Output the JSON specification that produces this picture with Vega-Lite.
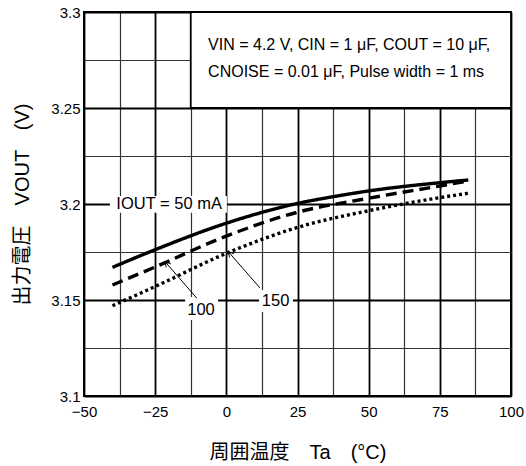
{
  "$schema": "https://vega.github.io/schema/vega-lite/v6.json",
  "width": 427,
  "height": 384,
  "autosize": {"type": "none"},
  "padding": {"left": 84, "top": 12, "right": 15, "bottom": 70},
  "config": {"view": {"stroke": "black", "strokeWidth": 2}, "font": "Liberation Sans"},
  "datasets": {
    "curves": [
      {"Ta": -40, "Vout": 3.167, "IOUT": "50"},
      {"Ta": -25, "Vout": 3.1762, "IOUT": "50"},
      {"Ta": 0, "Vout": 3.19, "IOUT": "50"},
      {"Ta": 25, "Vout": 3.2003, "IOUT": "50"},
      {"Ta": 37.5, "Vout": 3.2038, "IOUT": "50"},
      {"Ta": 50, "Vout": 3.2068, "IOUT": "50"},
      {"Ta": 75, "Vout": 3.2111, "IOUT": "50"},
      {"Ta": 85, "Vout": 3.2125, "IOUT": "50"},
      {"Ta": -40, "Vout": 3.1578, "IOUT": "100"},
      {"Ta": -25, "Vout": 3.1672, "IOUT": "100"},
      {"Ta": 0, "Vout": 3.1833, "IOUT": "100"},
      {"Ta": 25, "Vout": 3.1957, "IOUT": "100"},
      {"Ta": 50, "Vout": 3.203, "IOUT": "100"},
      {"Ta": 75, "Vout": 3.2094, "IOUT": "100"},
      {"Ta": 85, "Vout": 3.212, "IOUT": "100"},
      {"Ta": -40, "Vout": 3.147, "IOUT": "150"},
      {"Ta": -25, "Vout": 3.157, "IOUT": "150"},
      {"Ta": 0, "Vout": 3.1743, "IOUT": "150"},
      {"Ta": 25, "Vout": 3.1878, "IOUT": "150"},
      {"Ta": 50, "Vout": 3.1965, "IOUT": "150"},
      {"Ta": 75, "Vout": 3.2033, "IOUT": "150"},
      {"Ta": 85, "Vout": 3.2056, "IOUT": "150"}
    ],
    "condbox": [{"x": -12.5, "x2": 100, "y": 3.25, "y2": 3.3}],
    "labelboxes": [
      {"x": -40.9, "x2": 0.2, "y": 3.1955, "y2": 3.2042},
      {"x": -14.5, "x2": -2.9, "y": 3.1396, "y2": 3.1516},
      {"x": 11.5, "x2": 23.4, "y": 3.1438, "y2": 3.1552}
    ],
    "arrows": [
      {"x": -10.4, "y": 3.151, "x2": -21.55, "y2": 3.17},
      {"x": 11.8, "y": 3.1563, "x2": 0.68, "y2": 3.1752}
    ],
    "labels": [
      {"x": -20.1, "y": 3.2, "text": "IOUT = 50 mA"},
      {"x": -8.9, "y": 3.1448, "text": "100"},
      {"x": 17.3, "y": 3.1495, "text": "150"}
    ],
    "cond": [
      {"x": -6.4, "y": 3.2828, "text": "VIN = 4.2 V, CIN = 1 μF, COUT = 10 μF,"},
      {"x": -6.4, "y": 3.2688, "text": "CNOISE = 0.01 μF, Pulse width = 1 ms"}
    ]
  },
  "layer": [
    {
      "data": {"name": "condbox"},
      "mark": {"type": "rect", "fill": "white", "stroke": "black", "strokeWidth": 1.8},
      "encoding": {
        "x": {
          "field": "x", "type": "quantitative",
          "scale": {"domain": [-50, 100], "nice": false, "zero": false},
          "axis": {
            "values": [-50, -37.5, -25, -12.5, 0, 12.5, 25, 37.5, 50, 62.5, 75, 87.5, 100],
            "tickCount": 30,
            "format": ".1f",
            "labelExpr": "datum.value % 25 == 0 ? replace(format(datum.value, 'd'), '-', '–') : ''",
            "labelFlush": false, "labelOverlap": false, "labelBound": false,
            "ticks": false, "domain": false,
            "grid": true,
            "gridColor": {"condition": {"test": "datum.value % 25 == 0", "value": "#000000"}, "value": "#333333"},
            "gridWidth": {"condition": {"test": "datum.value % 25 == 0", "value": 1.8}, "value": 1.2},
            "gridOpacity": 1,
            "labelFont": "Liberation Sans", "labelFontSize": 15, "labelColor": "black", "labelPadding": 8,
            "title": "周囲温度　Ta　(°C)",
            "titleFont": "Liberation Sans, Noto Sans CJK JP", "titleFontSize": 20, "titleFontWeight": "normal",
            "titleColor": "black", "titleY": 56, "titleBaseline": "middle"
          }
        },
        "x2": {"field": "x2"},
        "y": {
          "field": "y", "type": "quantitative",
          "scale": {"domain": [3.1, 3.3], "nice": false, "zero": false},
          "axis": {
            "values": [3.1, 3.125, 3.15, 3.175, 3.2, 3.225, 3.25, 3.275, 3.3],
            "tickCount": 30,
            "format": ".3f",
            "labelExpr": "round(datum.value * 1000) % 50 == 0 ? format(datum.value, '~g') : ''",
            "labelOverlap": false, "labelBound": false, "labelFlush": false,
            "ticks": false, "domain": false,
            "grid": true,
            "gridColor": {"condition": {"test": "round(datum.value * 1000) % 50 == 0", "value": "#000000"}, "value": "#333333"},
            "gridWidth": {"condition": {"test": "round(datum.value * 1000) % 50 == 0", "value": 1.8}, "value": 1.2},
            "gridOpacity": 1,
            "labelFont": "Liberation Sans", "labelFontSize": 15, "labelColor": "black", "labelPadding": 4,
            "title": "出力電圧　VOUT　(V)",
            "titleFont": "Liberation Sans, Noto Sans CJK JP", "titleFontSize": 20, "titleFontWeight": "normal",
            "titleColor": "black", "titleX": -62, "titleBaseline": "middle"
          }
        },
        "y2": {"field": "y2"}
      }
    },
    {
      "data": {"name": "labelboxes"},
      "mark": {"type": "rect", "fill": "white", "strokeWidth": 0},
      "encoding": {
        "x": {"field": "x", "type": "quantitative"},
        "x2": {"field": "x2"},
        "y": {"field": "y", "type": "quantitative"},
        "y2": {"field": "y2"}
      }
    },
    {
      "data": {"name": "curves"},
      "mark": {"type": "line", "color": "black", "strokeWidth": 3.4, "interpolate": "monotone", "strokeCap": "butt"},
      "encoding": {
        "x": {"field": "Ta", "type": "quantitative"},
        "y": {"field": "Vout", "type": "quantitative"},
        "detail": {"field": "IOUT"},
        "strokeDash": {
          "field": "IOUT", "type": "nominal",
          "scale": {"domain": ["50", "100", "150"], "range": [[1, 0], [11, 6], [3, 3]]},
          "legend": null
        }
      }
    },
    {
      "data": {"name": "arrows"},
      "mark": {"type": "rule", "color": "black", "strokeWidth": 1},
      "encoding": {
        "x": {"field": "x", "type": "quantitative"},
        "y": {"field": "y", "type": "quantitative"},
        "x2": {"field": "x2"},
        "y2": {"field": "y2"}
      }
    },
    {
      "data": {"name": "arrows"},
      "mark": {"type": "point", "shape": "M-0.55,1L0,0L0.55,1", "filled": false, "color": "black", "strokeWidth": 1, "size": 110, "angle": -41, "opacity": 1},
      "encoding": {
        "x": {"field": "x2", "type": "quantitative"},
        "y": {"field": "y2", "type": "quantitative"}
      }
    },
    {
      "data": {"name": "labels"},
      "mark": {"type": "text", "font": "Liberation Sans", "fontSize": 16.5, "color": "black", "align": "center", "baseline": "middle"},
      "encoding": {
        "x": {"field": "x", "type": "quantitative"},
        "y": {"field": "y", "type": "quantitative"},
        "text": {"field": "text"}
      }
    },
    {
      "data": {"name": "cond"},
      "mark": {"type": "text", "font": "Liberation Sans", "fontSize": 16, "color": "black", "align": "left", "baseline": "middle"},
      "encoding": {
        "x": {"field": "x", "type": "quantitative"},
        "y": {"field": "y", "type": "quantitative"},
        "text": {"field": "text"}
      }
    }
  ]
}
